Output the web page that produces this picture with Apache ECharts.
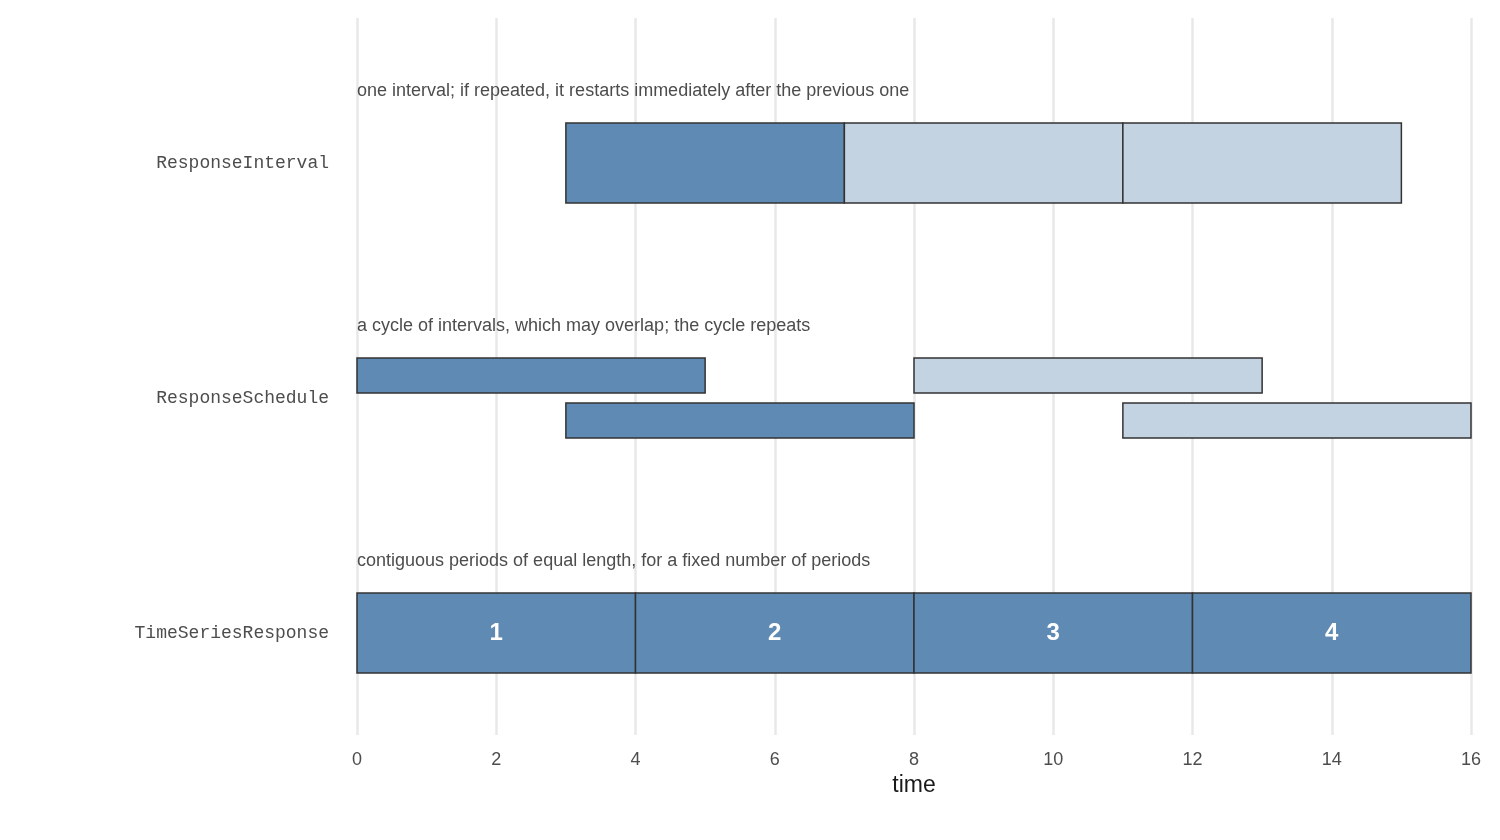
<!DOCTYPE html>
<html>
<head>
<meta charset="utf-8">
<script src="https://cdn.jsdelivr.net/npm/echarts@6/dist/echarts.min.js"></script>
<style>html,body{margin:0;padding:0;background:#fff}#chart{width:1500px;height:840px}</style>
</head>
<body>
<div id="chart"></div>
<script>
// rows, bottom to top (row index = y value)
const rowNames = ["TimeSeriesResponse", "ResponseSchedule", "ResponseInterval"];
const rowNotes = [
  "contiguous periods of equal length, for a fixed number of periods",
  "a cycle of intervals, which may overlap; the cycle repeats",
  "one interval; if repeated, it restarts immediately after the previous one"
];
// [start, end, row, lane (0 full, 1 upper, 2 lower), shade (0 first cycle, 1 repeat), label]
const intervalBars = [[3, 7, 2, 0, 0, ""], [7, 11, 2, 0, 1, ""], [11, 15, 2, 0, 1, ""]];
const scheduleBars = [[0, 5, 1, 1, 0, ""], [3, 8, 1, 2, 0, ""], [8, 13, 1, 1, 1, ""], [11, 16, 1, 2, 1, ""]];
const seriesBars = [[0, 4, 0, 0, 0, "1"], [4, 8, 0, 0, 0, "2"], [8, 12, 0, 0, 0, "3"], [12, 16, 0, 0, 0, "4"]];
const xTicks = [0, 2, 4, 6, 8, 10, 12, 14, 16];

const bars = intervalBars.concat(scheduleBars, seriesBars);
const fills = ["#5f8ab4", "#c3d3e2"];
const chart = echarts.init(document.getElementById("chart"));

chart.setOption({
  animation: false,
  grid: { left: 357, right: 29, top: 18, bottom: 105 },
  xAxis: {
    type: "value", min: 0, max: 16, interval: 2,
    name: "time", nameLocation: "middle", nameGap: 38,
    nameTextStyle: { fontSize: 23, color: "#1a1a1a", fontFamily: "Liberation Sans" },
    axisLine: { show: false }, axisTick: { show: false },
    axisLabel: { fontSize: 18, color: "#4d4d4d", margin: 16, fontFamily: "Liberation Sans",
      formatter: v => xTicks.includes(v) ? String(v) : "" },
    splitLine: { show: true, lineStyle: { color: "#e8e8e8", width: 2.5 } }
  },
  yAxis: {
    type: "value", min: -0.434, max: 2.617, show: false,
    splitLine: { show: false }
  },
  series: [
    {
      type: "custom",
      data: bars,
      renderItem: (params, api) => {
        const s = api.value(0), e = api.value(1), row = api.value(2), lane = api.value(3), shade = api.value(4);
        const label = bars[params.dataIndex][5];
        const p0 = api.coord([s, row]), p1 = api.coord([e, row]);
        let y0, h;
        if (lane === 0) { y0 = p0[1] - 40; h = 80; }
        else if (lane === 1) { y0 = p0[1] - 40; h = 35; }
        else { y0 = p0[1] + 5; h = 35; }
        const children = [{
          type: "rect",
          shape: { x: p0[0], y: y0, width: p1[0] - p0[0], height: h },
          style: { fill: fills[shade], stroke: "#333333", lineWidth: 1.5 }
        }];
        if (label) {
          children.push({
            type: "text",
            style: { text: label, x: (p0[0] + p1[0]) / 2, y: p0[1], align: "center", verticalAlign: "middle",
              fill: "#ffffff", fontSize: 24, fontWeight: "bold", fontFamily: "Liberation Sans" }
          });
        }
        return { type: "group", children: children };
      }
    },
    {
      type: "custom",
      data: rowNames.map((n, i) => [0, i]),
      renderItem: (params, api) => {
        const p = api.coord([0, api.value(1)]);
        const i = params.dataIndex;
        return {
          type: "group",
          children: [
            { type: "text", style: { text: rowNames[i], x: p[0] - 28, y: p[1], align: "right", verticalAlign: "middle",
                fill: "#4d4d4d", fontSize: 18, fontFamily: "Liberation Mono" } },
            { type: "text", style: { text: rowNotes[i], x: p[0], y: p[1] - 72, align: "left", verticalAlign: "middle",
                fill: "#4d4d4d", fontSize: 18, fontFamily: "Liberation Sans" } }
          ]
        };
      }
    }
  ]
});
</script>
</body>
</html>
